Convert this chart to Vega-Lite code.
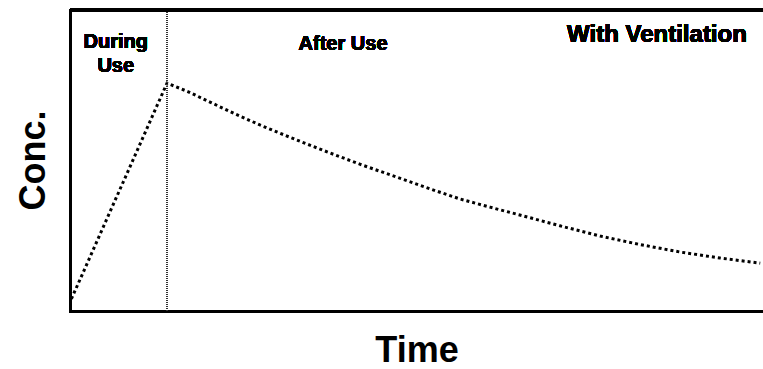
{
  "$schema": "https://vega.github.io/schema/vega-lite/v6.json",
  "autosize": "none",
  "width": 693,
  "height": 301,
  "padding": {"left": 70, "top": 10, "right": 0, "bottom": 58},
  "background": "white",
  "config": {
    "view": {"stroke": null},
    "font": "Liberation Sans",
    "axis": {
      "domainColor": "black",
      "domainWidth": 3,
      "domainCap": "square",
      "ticks": false,
      "labels": false,
      "grid": false,
      "titleFont": "Liberation Sans",
      "titleFontWeight": "bold",
      "titleFontSize": 36,
      "titleColor": "black"
    }
  },
  "data": {
    "values": [
      {"t": 0.02, "c": 0.04},
      {"t": 1.40, "c": 0.757},
      {"t": 1.70, "c": 0.729},
      {"t": 2.02, "c": 0.694},
      {"t": 2.38, "c": 0.655},
      {"t": 2.74, "c": 0.618},
      {"t": 3.10, "c": 0.584},
      {"t": 3.46, "c": 0.551},
      {"t": 3.82, "c": 0.519},
      {"t": 4.18, "c": 0.488},
      {"t": 4.55, "c": 0.458},
      {"t": 4.91, "c": 0.429},
      {"t": 5.27, "c": 0.400},
      {"t": 5.63, "c": 0.372},
      {"t": 6.06, "c": 0.345},
      {"t": 6.49, "c": 0.319},
      {"t": 7.07, "c": 0.283},
      {"t": 7.65, "c": 0.249},
      {"t": 8.22, "c": 0.221},
      {"t": 8.80, "c": 0.196},
      {"t": 9.38, "c": 0.176},
      {"t": 9.96, "c": 0.159}
    ]
  },
  "layer": [
    {
      "mark": {"type": "line", "color": "black", "strokeWidth": 3, "strokeDash": [3, 3], "interpolate": "linear"},
      "encoding": {
        "x": {"field": "t", "type": "quantitative", "scale": {"domain": [0, 10]},
              "axis": {"title": "Time", "titlePadding": 50, "titleBaseline": "alphabetic"}},
        "y": {"field": "c", "type": "quantitative", "scale": {"domain": [0, 1]},
              "axis": {"title": "Conc.", "titlePadding": 26, "titleBaseline": "alphabetic", "titleY": 150}}
      }
    },
    {
      "mark": {"type": "rule", "color": "#333333", "strokeWidth": 1, "strokeDash": [1, 1]},
      "encoding": {"x": {"datum": 1.4, "type": "quantitative"}}
    },
    {
      "mark": {"type": "rule", "color": "black", "strokeWidth": 3},
      "encoding": {"y": {"datum": 1, "type": "quantitative"}}
    },
    {
      "mark": {"type": "text", "text": ["During", "Use"], "font": "Liberation Sans", "fontWeight": "bold", "fontSize": 20, "lineHeight": 24, "align": "center", "baseline": "alphabetic", "color": "black"},
      "encoding": {"x": {"datum": 0.66, "type": "quantitative"}, "y": {"datum": 0.874, "type": "quantitative"}}
    },
    {
      "mark": {"type": "text", "text": "After Use", "font": "Liberation Sans", "fontWeight": "bold", "fontSize": 20, "align": "center", "baseline": "alphabetic", "color": "black"},
      "encoding": {"x": {"datum": 3.94, "type": "quantitative"}, "y": {"datum": 0.867, "type": "quantitative"}}
    },
    {
      "mark": {"type": "text", "text": "With Ventilation", "font": "Liberation Sans", "fontWeight": "bold", "fontSize": 24, "align": "center", "baseline": "alphabetic", "color": "black"},
      "encoding": {"x": {"datum": 8.47, "type": "quantitative"}, "y": {"datum": 0.894, "type": "quantitative"}}
    }
  ]
}
